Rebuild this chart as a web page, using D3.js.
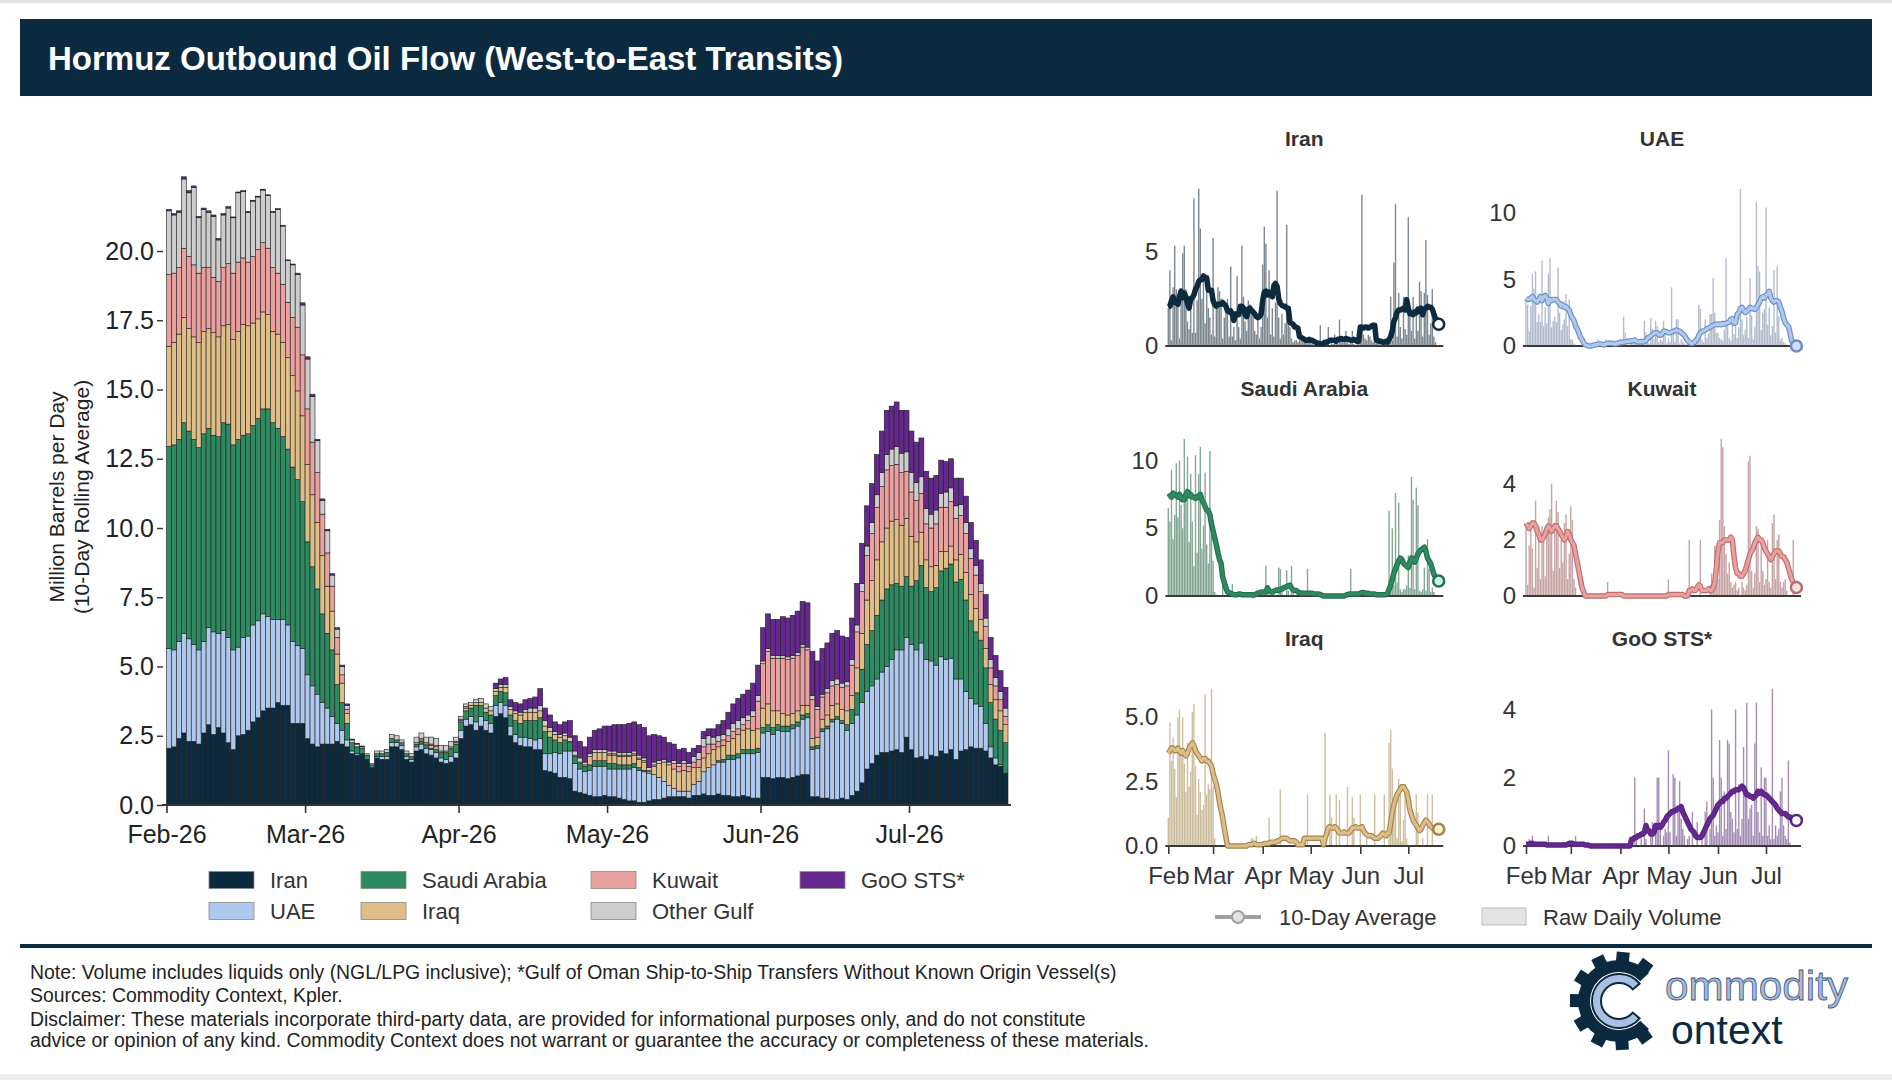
<!DOCTYPE html>
<html>
<head>
<meta charset="utf-8">
<script src="https://cdn.jsdelivr.net/npm/d3@7"></script>
<style>
body { margin: 0; background: #fff; }
text { font-family: "Liberation Sans", Arial, Helvetica, sans-serif; }
</style>
</head>
<body>
<div id="chart"></div>
<script>
// series names (stack order, bottom to top)
var keys = ["Iran", "UAE", "Saudi Arabia", "Iraq", "Kuwait", "Other Gulf", "GoO STS*"];

// 10-day rolling averages, million b/d, one value per day from 1 Feb 2026
var iranAvg = [
  2.05, 2.1, 2.4, 2.6, 2.3, 2.3, 2.2, 2.6, 2.9, 2.55,
  2.8, 2.6, 2.25, 2.0, 2.5, 2.55, 2.7, 3.0, 3.15, 3.4,
  3.5, 3.5, 3.7, 3.6, 3.6, 2.95, 2.95, 2.95, 2.4, 2.2,
  2.1, 2.2, 2.2, 2.2, 2.3, 2.2, 2.1, 1.85, 1.8, 1.85,
  1.65, 1.35, 1.7, 1.65, 1.65, 2.1, 2.1, 2.0, 1.65, 1.55,
  1.95, 2.0, 1.85, 1.8, 1.7, 1.55, 1.5, 1.55, 1.7, 2.4,
  2.85, 2.9, 2.7, 2.85, 2.7, 2.6, 3.2, 3.3, 3.15, 2.5,
  2.25, 2.15, 2.1, 2.1, 2.0, 2.0, 1.25, 1.2, 1.15, 1.0,
  1.0, 0.95, 0.5, 0.45, 0.4, 0.35, 0.3, 0.3, 0.35, 0.3,
  0.3, 0.25, 0.2, 0.15, 0.15, 0.1, 0.1, 0.15, 0.2, 0.2,
  0.25, 0.3, 0.3, 0.3, 0.3, 0.25, 0.35, 0.35, 0.4, 0.35,
  0.35, 0.4, 0.35, 0.35, 0.3, 0.3, 0.35, 0.3, 0.25, 0.25,
  1.0, 1.0, 0.95, 1.0, 1.0, 0.95, 1.0, 1.05, 1.1, 1.1,
  0.3, 0.3, 0.25, 0.25, 0.2, 0.2, 0.25, 0.2, 0.35, 0.5,
  0.8, 1.3, 1.5, 1.8, 1.9, 1.9, 1.95, 2.0, 1.9, 2.45,
  2.0, 1.7, 1.75, 1.65, 1.8, 1.75, 1.95, 1.85, 2.0, 1.65,
  1.95, 2.0, 2.1, 2.05, 2.05, 1.95, 1.7, 1.45, 1.4, 1.15
];
var uaeAvg = [
  3.6, 3.5, 3.5, 3.6, 3.7, 3.5, 3.4, 3.3, 3.5, 3.7,
  3.4, 3.7, 3.8, 3.6, 3.2, 3.5, 3.4, 3.5, 3.5, 3.5,
  3.3, 3.2, 3.0, 3.1, 2.9, 2.95, 2.8, 2.7, 2.3, 2.1,
  1.9, 1.5, 1.3, 1.0, 0.65, 0.5, 0.25, 0.1, 0.05, 0.0,
  0.0, 0.0, 0.05, 0.1, 0.1, 0.15, 0.15, 0.15, 0.1, 0.1,
  0.15, 0.2, 0.2, 0.2, 0.2, 0.15, 0.15, 0.2, 0.2, 0.3,
  0.25, 0.3, 0.3, 0.35, 0.35, 0.35, 0.4, 0.4, 0.45, 0.35,
  0.3, 0.3, 0.35, 0.3, 0.35, 0.4, 0.6, 0.65, 0.75, 0.85,
  0.95, 1.0, 1.0, 0.85, 0.8, 0.9, 1.1, 1.1, 1.05, 1.0,
  1.0, 1.05, 1.1, 1.15, 1.2, 1.15, 1.1, 1.0, 0.9, 0.8,
  0.6, 0.4, 0.3, 0.2, 0.2, 0.25, 0.4, 0.5, 0.8, 1.0,
  1.1, 1.15, 1.2, 1.3, 1.35, 1.4, 1.5, 1.55, 1.6, 1.65,
  1.6, 1.65, 1.6, 1.7, 1.65, 1.7, 1.75, 1.8, 2.0, 2.05,
  1.7, 1.75, 2.4, 2.5, 2.8, 2.9, 2.7, 2.5, 2.6, 2.75,
  2.9, 2.8, 2.8, 2.75, 2.9, 3.1, 3.3, 3.6, 3.7, 3.6,
  3.8, 3.9, 4.1, 3.6, 3.4, 3.3, 3.4, 3.4, 3.3, 2.9,
  2.6, 2.1, 1.75, 1.6, 1.5, 1.0, 0.4, 0.25, 0.05, 0.0
];
var saudiAvg = [
  7.3, 7.4, 7.3, 7.6, 7.5, 7.4, 7.3, 7.5, 7.2, 7.1,
  7.1, 7.5, 7.7, 7.4, 7.5, 7.3, 7.3, 7.2, 7.3, 7.4,
  7.5, 7.1, 6.9, 6.6, 6.35, 6.3, 6.0, 5.3, 4.8, 4.3,
  3.8, 3.2, 2.7, 2.4, 1.4, 1.0, 0.6, 0.3, 0.25, 0.2,
  0.15, 0.1, 0.1, 0.1, 0.15, 0.15, 0.1, 0.1, 0.1, 0.1,
  0.1, 0.1, 0.1, 0.05, 0.1, 0.15, 0.2, 0.25, 0.3, 0.3,
  0.3, 0.3, 0.6, 0.4, 0.3, 0.3, 0.35, 0.4, 0.45, 0.4,
  0.5, 0.5, 0.6, 0.65, 0.7, 0.75, 0.8, 0.6, 0.45, 0.4,
  0.4, 0.3, 0.25, 0.2, 0.2, 0.2, 0.2, 0.2, 0.2, 0.2,
  0.2, 0.15, 0.15, 0.15, 0.15, 0.1, 0.05, 0.0, 0.0, 0.0,
  0.0, 0.0, 0.0, 0.0, 0.0, 0.0, 0.0, 0.0, 0.0, 0.0,
  0.0, 0.05, 0.1, 0.15, 0.15, 0.15, 0.15, 0.15, 0.15, 0.15,
  0.2, 0.25, 0.25, 0.2, 0.2, 0.2, 0.15, 0.15, 0.15, 0.15,
  0.1, 0.1, 0.1, 0.1, 0.1, 0.1, 0.1, 0.2, 0.5, 0.8,
  1.2, 1.7, 2.0, 2.3, 2.6, 2.8, 2.7, 2.4, 2.3, 2.2,
  2.1, 2.5, 2.8, 2.6, 2.5, 2.8, 3.1, 3.3, 3.4, 3.5,
  3.6, 3.3, 2.8, 2.6, 2.4, 2.0, 1.6, 1.4, 1.25, 1.1
];
var iraqAvg = [
  3.6, 3.7, 3.8, 3.8, 3.7, 3.7, 3.8, 3.7, 3.6, 3.7,
  3.6, 3.5, 3.6, 3.8, 3.9, 4.0, 3.9, 3.7, 3.6, 3.5,
  3.4, 3.3, 3.4, 3.4, 3.3, 3.3, 3.2, 3.1, 2.8, 2.6,
  2.4, 2.1, 1.7, 1.4, 1.1, 0.7, 0.35, 0.0, 0.0, 0.0,
  0.0, 0.0, 0.0, 0.0, 0.0, 0.0, 0.0, 0.0, 0.0, 0.0,
  0.05, 0.05, 0.05, 0.1, 0.1, 0.05, 0.05, 0.05, 0.05, 0.05,
  0.1, 0.1, 0.1, 0.1, 0.15, 0.15, 0.15, 0.15, 0.2, 0.2,
  0.25, 0.3, 0.3, 0.3, 0.3, 0.25, 0.2, 0.2, 0.2, 0.2,
  0.15, 0.05, 0.05, 0.05, 0.05, 0.3, 0.3, 0.3, 0.3, 0.3,
  0.3, 0.3, 0.3, 0.3, 0.3, 0.3, 0.3, 0.05, 0.3, 0.5,
  0.7, 0.75, 0.7, 0.7, 0.75, 0.7, 0.6, 0.5, 0.5, 0.5,
  0.55, 0.5, 0.5, 0.5, 0.6, 0.7, 0.7, 0.75, 0.7, 0.7,
  0.7, 0.75, 0.6, 0.5, 0.45, 0.4, 0.4, 0.4, 0.35, 0.3,
  0.3, 0.3, 0.35, 0.4, 0.5, 0.45, 0.4, 0.5, 0.5, 0.9,
  1.3, 1.6, 1.8, 2.0, 2.1, 2.2, 2.3, 2.3, 2.2, 2.1,
  1.8, 1.4, 1.2, 1.0, 0.9, 0.8, 0.7, 0.6, 0.65, 0.8,
  0.9, 1.0, 0.95, 0.85, 0.75, 0.7, 0.65, 0.7, 0.7, 0.65
];
var kuwaitAvg = [
  2.6, 2.5, 2.4, 2.5, 2.6, 2.6, 2.5, 2.3, 2.2, 2.0,
  2.0, 2.1, 2.2, 2.4, 2.5, 2.4, 2.3, 2.4, 2.5, 2.5,
  2.4, 2.3, 2.2, 2.1, 2.0, 2.1, 2.3, 2.2, 2.0, 1.9,
  1.8, 1.5, 1.2, 0.9, 0.6, 0.3, 0.15, 0.0, 0.0, 0.0,
  0.0, 0.0, 0.0, 0.0, 0.0, 0.0, 0.0, 0.0, 0.0, 0.0,
  0.0, 0.05, 0.05, 0.05, 0.05, 0.05, 0.05, 0.05, 0.05, 0.05,
  0.05, 0.0, 0.0, 0.0, 0.0, 0.0, 0.0, 0.0, 0.0, 0.0,
  0.0, 0.0, 0.0, 0.0, 0.0, 0.0, 0.0, 0.0, 0.0, 0.0,
  0.0, 0.0, 0.0, 0.0, 0.0, 0.0, 0.0, 0.0, 0.0, 0.05,
  0.05, 0.05, 0.05, 0.05, 0.05, 0.05, 0.05, 0.05, 0.05, 0.0,
  0.0, 0.0, 0.2, 0.2, 0.25, 0.2, 0.2, 0.3, 0.4, 0.35,
  0.2, 0.2, 0.2, 0.2, 0.25, 0.2, 0.2, 0.3, 0.5, 1.0,
  1.6, 1.9, 1.9, 1.9, 2.0, 2.0, 2.0, 2.0, 2.1, 2.0,
  1.4, 1.0, 0.8, 0.8, 0.7, 0.7, 0.8, 0.9, 1.1, 1.3,
  1.5, 1.6, 1.7, 1.9, 2.0, 2.1, 2.0, 2.0, 1.9, 1.7,
  1.6, 1.5, 1.4, 1.3, 1.4, 1.5, 1.6, 1.6, 1.6, 1.5,
  1.4, 1.4, 1.3, 1.2, 1.0, 0.8, 0.6, 0.5, 0.4, 0.3
];
var otherAvg = [
  2.3, 2.1, 2.0, 2.5, 2.3, 2.8, 2.0, 2.1, 2.0, 2.2,
  1.5, 1.9, 2.0, 2.0, 2.5, 2.4, 1.8, 2.0, 1.9, 1.9,
  1.9, 2.0, 2.3, 2.1, 1.5, 1.9, 1.9, 1.8, 1.8, 1.65,
  1.15, 0.5, 0.8, 0.4, 0.3, 0.3, 0.15, 0.1, 0.1, 0.05,
  0.05, 0.05, 0.1, 0.1, 0.1, 0.15, 0.15, 0.1, 0.1, 0.1,
  0.2, 0.2, 0.2, 0.25, 0.25, 0.2, 0.2, 0.2, 0.15, 0.1,
  0.1, 0.1, 0.1, 0.15, 0.15, 0.15, 0.1, 0.1, 0.1, 0.1,
  0.1, 0.1, 0.1, 0.15, 0.15, 0.2, 0.2, 0.15, 0.1, 0.1,
  0.1, 0.15, 0.15, 0.15, 0.1, 0.1, 0.1, 0.1, 0.1, 0.1,
  0.1, 0.1, 0.1, 0.1, 0.1, 0.1, 0.1, 0.1, 0.1, 0.1,
  0.1, 0.1, 0.1, 0.1, 0.1, 0.1, 0.2, 0.25, 0.3, 0.3,
  0.25, 0.2, 0.2, 0.25, 0.3, 0.3, 0.25, 0.2, 0.2, 0.2,
  0.1, 0.1, 0.1, 0.1, 0.1, 0.1, 0.1, 0.1, 0.1, 0.1,
  0.15, 0.1, 0.1, 0.15, 0.2, 0.2, 0.15, 0.15, 0.2, 0.25,
  0.3, 0.35, 0.4, 0.45, 0.5, 0.55, 0.6, 0.65, 0.7, 0.7,
  0.7, 0.65, 0.6, 0.55, 0.5, 0.5, 0.5, 0.55, 0.5, 0.45,
  0.4, 0.4, 0.35, 0.35, 0.3, 0.3, 0.3, 0.3, 0.3, 0.3
];
var gooAvg = [
  0.05, 0.05, 0.05, 0.08, 0.08, 0.05, 0.05, 0.05, 0.05, 0.05,
  0.05, 0.05, 0.05, 0.03, 0.03, 0.03, 0.03, 0.03, 0.03, 0.03,
  0.03, 0.03, 0.03, 0.03, 0.03, 0.03, 0.05, 0.08, 0.08, 0.08,
  0.05, 0.05, 0.05, 0.05, 0.05, 0.05, 0.05, 0.03, 0.03, 0.03,
  0.0, 0.0, 0.0, 0.0, 0.0, 0.0, 0.0, 0.0, 0.0, 0.0,
  0.0, 0.0, 0.0, 0.0, 0.0, 0.0, 0.0, 0.0, 0.0, 0.0,
  0.0, 0.0, 0.0, 0.0, 0.0, 0.0, 0.2, 0.2, 0.25, 0.25,
  0.3, 0.3, 0.35, 0.35, 0.4, 0.6, 0.45, 0.45, 0.35, 0.35,
  0.4, 0.6, 0.55, 0.6, 0.55, 0.6, 0.7, 0.75, 0.85, 0.9,
  0.95, 1.0, 1.0, 1.05, 1.05, 1.1, 1.1, 1.15, 1.0, 0.9,
  0.8, 0.7, 0.6, 0.5, 0.45, 0.4, 0.3, 0.25, 0.25, 0.25,
  0.3, 0.4, 0.5, 0.6, 0.7, 0.8, 0.85, 0.9, 1.0, 1.1,
  1.2, 1.25, 1.3, 1.3, 1.4, 1.4, 1.45, 1.5, 1.55, 1.6,
  1.6, 1.65, 1.65, 1.65, 1.7, 1.75, 1.7, 1.6, 1.5, 1.5,
  1.45, 1.45, 1.4, 1.45, 1.5, 1.6, 1.55, 1.6, 1.55, 1.5,
  1.5, 1.45, 1.4, 1.35, 1.3, 1.25, 1.2, 1.1, 1.05, 1.0,
  0.95, 0.95, 0.95, 0.9, 0.85, 0.85, 0.8, 0.8, 0.75, 0.75
];

// raw daily volumes, million b/d
var iranRaw = [
  2.0, 4.0, 0.3, 3.1, 5.3, 3.0, 2.6, 0.4, 2.7, 4.9,
  5.3, 3.0, 1.3, 0.9, 2.2, 0.7, 7.8, 0.7, 2.4, 8.3,
  6.2, 2.5, 3.5, 1.2, 3.2, 2.0, 1.5, 0.6, 5.7, 0.5,
  2.2, 3.1, 2.9, 2.5, 0.4, 1.5, 2.0, 2.5, 0.5, 4.2,
  0.5, 1.0, 0.3, 3.7, 1.0, 0.4, 5.3, 2.6, 1.3, 0.8,
  2.4, 2.2, 1.7, 2.0, 0.8, 0.6, 1.5, 0.4, 1.0, 4.3,
  6.3, 5.4, 1.5, 4.0, 0.6, 2.0, 0.5, 2.3, 8.2, 1.5,
  0.4, 1.7, 0.6, 1.2, 6.4, 2.0, 1.0, 0.4, 0.2, 0.3,
  0.3, 0.2, 0.3, 0.3, 0.2, 0.5, 0.3, 0.2, 0.4, 0.2,
  0.1, 0.0, 0.0, 0.1, 0.0, 1.1, 0.0, 0.1, 0.0, 0.1,
  1.0, 0.0, 0.3, 0.1, 0.6, 0.2, 0.1, 1.4, 0.5, 0.2,
  0.3, 0.8, 0.2, 0.1, 0.2, 0.8, 0.1, 0.0, 0.1, 0.2,
  0.3, 8.0, 0.6, 0.4, 0.3, 0.6, 0.5, 0.3, 0.2, 0.4,
  0.2, 0.2, 0.1, 0.3, 0.1, 0.2, 0.1, 0.3, 0.4, 2.6,
  0.3, 4.4, 7.5, 0.5, 2.8, 1.0, 0.4, 2.6, 0.9, 0.6,
  6.8, 1.6, 0.8, 2.6, 0.4, 2.0, 0.8, 3.4, 2.9, 0.5,
  2.8, 5.6, 2.7, 0.6, 1.2, 3.0, 0.5, 0.2, 0.0, 0.0
];
var uaeRaw = [
  3.6, 3.1, 1.1, 3.0, 5.4, 4.3, 5.6, 1.8, 2.4, 1.8,
  6.4, 1.5, 2.9, 1.7, 5.4, 6.6, 1.4, 1.9, 2.2, 1.8,
  5.9, 2.5, 1.2, 1.6, 2.0, 3.9, 1.5, 3.5, 0.5, 0.5,
  0.2, 0.1, 0.0, 0.1, 0.0, 0.0, 0.0, 0.0, 0.0, 0.0,
  0.0, 0.0, 0.0, 0.3, 0.0, 0.5, 0.0, 0.2, 0.0, 0.2,
  0.5, 0.0, 0.1, 0.4, 0.0, 0.2, 0.4, 0.0, 0.1, 0.2,
  0.3, 2.2, 1.0, 0.3, 0.1, 0.3, 0.2, 0.3, 0.2, 0.4,
  0.1, 0.3, 0.2, 0.3, 1.9, 1.0, 0.3, 0.2, 2.1, 1.3,
  0.5, 1.9, 1.5, 0.3, 0.5, 0.4, 1.9, 1.0, 0.2, 0.6,
  0.3, 4.4, 1.0, 0.3, 2.0, 2.0, 0.2, 0.5, 0.3, 0.2,
  0.1, 0.3, 0.1, 0.0, 0.2, 0.1, 0.3, 0.4, 3.1, 2.8,
  0.5, 0.3, 2.0, 0.6, 0.9, 2.4, 2.4, 5.1, 2.5, 1.0,
  1.0, 0.6, 0.5, 0.4, 1.2, 6.6, 1.5, 0.6, 0.4, 1.7,
  0.9, 2.0, 0.6, 1.4, 11.8, 2.0, 0.8, 1.2, 2.2, 0.6,
  5.1, 2.3, 0.5, 1.4, 10.8, 6.0, 5.6, 1.2, 2.5, 2.8,
  10.4, 1.6, 2.9, 0.8, 1.5, 5.7, 1.0, 6.0, 2.2, 0.5,
  0.6, 0.3, 0.2, 0.1, 0.0, 0.0, 0.0, 0.0, 0.0, 0.0
];
var saudiRaw = [
  6.5, 5.5, 9.3, 4.2, 6.0, 9.8, 5.8, 10.0, 6.7, 5.0,
  11.6, 7.8, 10.3, 4.0, 9.0, 5.5, 2.2, 10.4, 3.2, 9.0,
  11.0, 3.5, 5.2, 9.1, 3.8, 2.4, 10.7, 4.5, 2.6, 0.3,
  0.1, 0.0, 0.0, 0.0, 1.0, 0.0, 0.0, 0.0, 0.0, 0.0,
  0.9, 0.0, 0.0, 0.0, 0.0, 0.0, 0.0, 0.3, 0.0, 0.0,
  0.0, 0.0, 0.0, 0.0, 0.0, 0.4, 0.0, 0.0, 0.0, 0.0,
  0.0, 2.2, 0.3, 0.0, 0.0, 0.0, 0.2, 0.0, 0.0, 2.1,
  2.0, 0.3, 0.0, 0.0, 1.9, 0.4, 0.0, 2.2, 0.3, 0.0,
  0.0, 0.2, 0.0, 0.0, 0.0, 0.0, 0.0, 2.0, 0.0, 0.0,
  0.0, 0.0, 0.0, 0.0, 0.0, 0.0, 0.0, 0.0, 0.0, 0.0,
  0.0, 0.0, 0.0, 0.0, 0.0, 0.0, 0.0, 0.0, 0.0, 0.0,
  0.0, 0.0, 0.0, 0.3, 2.0, 0.3, 0.0, 0.0, 0.2, 0.0,
  0.2, 0.0, 0.0, 0.3, 0.0, 0.0, 0.2, 0.0, 0.2, 0.0,
  0.0, 0.0, 0.2, 0.0, 0.0, 0.2, 0.0, 0.0, 6.3, 0.4,
  5.0, 0.8, 7.6, 1.0, 6.9, 0.5, 0.3, 0.5, 0.5, 0.8,
  3.0, 0.6, 8.8, 7.1, 0.5, 8.0, 6.7, 0.4, 0.3, 0.5,
  2.1, 0.4, 4.2, 2.0, 0.3, 0.6, 0.3, 0.0, 0.0, 0.0
];
var iraqRaw = [
  1.1, 4.8, 3.3, 4.2, 3.0, 1.9, 5.0, 5.3, 3.5, 5.0,
  3.2, 2.1, 4.0, 2.3, 2.9, 5.2, 5.5, 3.1, 1.2, 2.6,
  2.1, 1.4, 1.6, 5.9, 2.0, 2.4, 2.2, 6.1, 2.3, 0.3,
  0.0, 0.0, 0.0, 0.0, 0.0, 0.0, 0.0, 0.0, 0.0, 0.0,
  0.0, 0.0, 0.0, 0.0, 0.0, 0.0, 0.0, 0.0, 0.0, 0.0,
  0.0, 0.0, 0.3, 0.3, 0.0, 0.4, 0.0, 0.0, 0.0, 0.0,
  0.0, 0.0, 0.0, 1.1, 0.0, 0.0, 0.0, 0.0, 0.0, 0.0,
  2.2, 0.0, 0.0, 0.0, 0.0, 0.0, 0.0, 0.0, 0.0, 0.0,
  0.0, 0.0, 0.0, 0.0, 0.0, 0.0, 0.0, 2.0, 0.0, 0.0,
  0.0, 0.0, 0.0, 0.0, 0.0, 0.0, 0.0, 0.0, 4.4, 0.0,
  0.0, 2.0, 1.1, 0.0, 0.0, 2.0, 0.0, 1.8, 0.0, 0.0,
  0.0, 0.0, 2.3, 0.0, 0.0, 1.9, 1.1, 0.0, 0.0, 0.0,
  2.0, 0.0, 0.0, 0.0, 0.5, 0.0, 0.0, 0.0, 0.0, 2.0,
  0.0, 0.0, 0.0, 0.0, 0.0, 2.0, 0.0, 0.0, 4.0, 4.5,
  3.0, 1.5, 1.8, 0.3, 2.6, 2.4, 0.2, 1.0, 2.4, 0.3,
  0.0, 0.0, 0.0, 0.0, 0.0, 2.0, 1.3, 0.0, 0.0, 0.3,
  0.0, 0.0, 2.0, 0.0, 0.0, 2.0, 0.0, 0.0, 0.0, 0.0
];
var kuwaitRaw = [
  2.6, 0.4, 1.8, 2.4, 1.7, 0.3, 3.4, 1.0, 2.5, 0.6,
  2.5, 2.0, 0.7, 2.3, 2.8, 3.1, 4.0, 0.9, 2.5, 3.4,
  3.0, 1.0, 2.0, 1.2, 2.6, 2.9, 0.6, 1.5, 3.2, 2.7,
  0.6, 0.3, 0.0, 0.0, 0.0, 0.0, 0.0, 0.0, 0.0, 0.0,
  0.0, 0.0, 0.0, 0.0, 0.0, 0.0, 0.0, 0.0, 0.0, 0.0,
  0.0, 0.5, 0.0, 0.0, 0.0, 0.0, 0.0, 0.0, 0.0, 0.0,
  0.0, 0.0, 0.0, 0.0, 0.0, 0.0, 0.0, 0.0, 0.0, 0.0,
  0.0, 0.0, 0.0, 0.0, 0.0, 0.0, 0.0, 0.0, 0.0, 0.0,
  0.0, 0.0, 0.0, 0.0, 0.0, 0.0, 0.0, 0.0, 0.0, 0.6,
  0.0, 0.0, 0.0, 0.0, 0.0, 0.0, 0.0, 0.0, 0.0, 0.0,
  0.0, 0.0, 2.0, 0.0, 0.0, 0.0, 0.0, 0.0, 0.0, 2.0,
  0.0, 0.0, 0.0, 0.0, 0.0, 0.4, 0.8, 0.3, 1.8, 0.4,
  0.6, 2.7, 5.6, 5.3, 2.5, 1.5, 0.8, 1.2, 0.5, 0.3,
  0.4, 0.5, 0.2, 0.3, 0.0, 0.5, 0.3, 0.2, 0.4, 4.8,
  5.0, 0.9, 0.3, 0.8, 2.5, 2.4, 0.5, 1.9, 0.9, 0.4,
  0.6, 2.0, 0.5, 0.3, 2.6, 2.9, 0.6, 2.0, 2.2, 0.5,
  0.3, 0.5, 0.6, 0.2, 0.0, 0.0, 0.0, 2.0, 0.0, 0.0
];
var gooRaw = [
  0.0, 0.0, 0.2, 0.0, 0.3, 0.0, 0.0, 0.0, 0.0, 0.0,
  0.0, 0.0, 0.0, 0.0, 0.3, 0.0, 0.0, 0.0, 0.0, 0.0,
  0.0, 0.0, 0.0, 0.0, 0.0, 0.0, 0.0, 0.0, 0.0, 0.0,
  0.0, 0.3, 0.0, 0.0, 0.0, 0.0, 0.0, 0.0, 0.0, 0.0,
  0.0, 0.0, 0.0, 0.0, 0.0, 0.0, 0.0, 0.0, 0.0, 0.0,
  0.0, 0.0, 0.0, 0.0, 0.0, 0.0, 0.0, 0.0, 0.0, 0.0,
  0.0, 0.0, 0.0, 0.0, 0.0, 0.0, 0.0, 0.0, 2.0, 0.3,
  0.0, 0.0, 0.2, 0.0, 1.1, 0.2, 0.0, 0.0, 0.3, 0.7,
  0.0, 0.5, 2.0, 2.0, 0.5, 0.0, 0.3, 0.5, 0.4, 2.8,
  0.4, 0.0, 2.1, 2.0, 0.3, 1.2, 1.9, 0.8, 0.5, 0.3,
  0.0, 0.2, 0.3, 0.0, 1.0, 0.0, 0.0, 0.7, 0.0, 0.0,
  0.3, 0.0, 1.0, 1.3, 0.0, 0.5, 4.0, 2.0, 0.3, 0.6,
  0.4, 3.1, 2.0, 0.3, 1.6, 0.5, 3.1, 3.0, 1.0, 0.8,
  0.4, 4.0, 0.5, 1.8, 0.3, 0.8, 2.9, 1.5, 4.2, 0.8,
  1.1, 1.2, 0.3, 3.0, 4.2, 1.0, 0.4, 2.3, 0.3, 2.0,
  2.0, 0.3, 0.6, 0.2, 4.6, 0.2, 0.6, 0.3, 0.5, 1.6,
  2.0, 0.6, 0.3, 0.2, 2.5, 0.1, 0.0, 0.0, 0.0, 0.0
];

// axis tick values / labels
var mainYTicks = [0, 2.5, 5, 7.5, 10, 12.5, 15, 17.5, 20];
var monthStarts = ["2026-02-01", "2026-03-01", "2026-04-01", "2026-05-01", "2026-06-01", "2026-07-01"];
var panelNames = ["Iran", "UAE", "Saudi Arabia", "Kuwait", "Iraq", "GoO STS*"];
var panelTicks = [[0, 5], [0, 5, 10], [0, 5, 10], [0, 2, 4], [0, 2.5, 5], [0, 2, 4]];
var legendLabels = ["10-Day Average", "Raw Daily Volume"];
var noteLines = [
  "Note: Volume includes liquids only (NGL/LPG inclusive); *Gulf of Oman Ship-to-Ship Transfers Without Known Origin Vessel(s)",
  "Sources: Commodity Context, Kpler.",
  "Disclaimer: These materials incorporate third-party data, are provided for informational purposes only, and do not constitute",
  "advice or opinion of any kind. Commodity Context does not warrant or guarantee the accuracy or completeness of these materials."
];

var avgData = [iranAvg, uaeAvg, saudiAvg, iraqAvg, kuwaitAvg, otherAvg, gooAvg];
var rawByName = {"Iran": iranRaw, "UAE": uaeRaw, "Saudi Arabia": saudiRaw, "Kuwait": kuwaitRaw, "Iraq": iraqRaw, "GoO STS*": gooRaw};
var avgByName = {"Iran": iranAvg, "UAE": uaeAvg, "Saudi Arabia": saudiAvg, "Kuwait": kuwaitAvg, "Iraq": iraqAvg, "GoO STS*": gooAvg};

var colors = ["#0d2b3f", "#aec8ee", "#2e8a60", "#dfbd87", "#eba0a0", "#cdcdcd", "#65288f"];
var colorByName = {"Iran": colors[0], "UAE": colors[1], "Saudi Arabia": colors[2], "Iraq": colors[3], "Kuwait": colors[4], "GoO STS*": colors[6]};
var edgeByName = {"Iran": "#0d2b3f", "UAE": "#6c8cc2", "Saudi Arabia": "#24704d", "Iraq": "#a4844f", "Kuwait": "#bb6d6d", "GoO STS*": "#5a2282"};
var rawByColor = {"Iran": "#7c878f", "UAE": "#b3bccc", "Saudi Arabia": "#85a894", "Iraq": "#ccbe9e", "Kuwait": "#c7a3a3", "GoO STS*": "#a48db5"};
var dotFill = {"Iran": "#ffffff", "UAE": "#cfe0f7", "Saudi Arabia": "#cff3e4", "Iraq": "#fbf0cc", "Kuwait": "#fbe3e3", "GoO STS*": "#ffffff"};

var W = 1892, H = 1080;
var svg = d3.select("#chart").append("svg").attr("width", W).attr("height", H);
svg.append("rect").attr("width", W).attr("height", H).attr("fill", "#fff");
svg.append("rect").attr("width", W).attr("height", 3).attr("fill", "#e3e3e3");
svg.append("rect").attr("y", 1074).attr("width", W).attr("height", 6).attr("fill", "#ececec");

// header band
svg.append("rect").attr("x", 20).attr("y", 19).attr("width", 1852).attr("height", 77).attr("fill", "#0c2a3f");
svg.append("text").attr("x", 48).attr("y", 70)
  .attr("fill", "#fff").attr("font-size", 33).attr("font-weight", "bold")
  .text("Hormuz Outbound Oil Flow (West-to-East Transits)");

// ---------- main stacked chart ----------
var start = new Date(2026, 1, 1);
var nDays = iranAvg.length;
var days = d3.timeDay.range(start, d3.timeDay.offset(start, nDays));
var rows = days.map(function(d, i) {
  var r = {date: d};
  keys.forEach(function(k, j) { r[k] = avgData[j][i]; });
  return r;
});
var parse = d3.timeParse("%Y-%m-%d");
var months = monthStarts.map(parse);

var x = d3.scaleTime().domain([start, d3.timeDay.offset(start, nDays)]).range([166.5, 1008]);
var y = d3.scaleLinear().domain([0, 20]).range([805, 251]);
var bw = x(d3.timeDay.offset(start, 1)) - x(start);

var series = d3.stack().keys(keys)(rows);
var main = svg.append("g");
main.selectAll("g.layer").data(series).enter().append("g")
    .attr("fill", function(d, i) { return colors[i]; })
  .selectAll("rect").data(function(d) { return d; })
  .enter().append("rect")
    .attr("x", function(d) { return x(d.data.date); })
    .attr("y", function(d) { return y(d[1]); })
    .attr("width", bw)
    .attr("height", function(d) { return Math.max(0, y(d[0]) - y(d[1])); })
    .attr("stroke", "#1e1e1e")
    .attr("stroke-width", 0.6);

var xAxis = main.append("g").attr("transform", "translate(0,805)")
  .call(d3.axisBottom(x).tickValues(months).tickFormat(d3.timeFormat("%b-%y")).tickSize(8).tickPadding(12).tickSizeOuter(0));
xAxis.select(".domain").remove();
xAxis.selectAll("line").attr("stroke", "#333").attr("stroke-width", 1.6);
xAxis.selectAll("text").attr("font-size", 25).attr("fill", "#222");
main.append("line").attr("x1", 162).attr("x2", 1011).attr("y1", 805).attr("y2", 805)
  .attr("stroke", "#333").attr("stroke-width", 2);

var yAxis = main.append("g").attr("transform", "translate(163,0)")
  .call(d3.axisLeft(y).tickValues(mainYTicks).tickFormat(d3.format(".1f")).tickSize(6).tickPadding(3));
yAxis.select(".domain").remove();
yAxis.selectAll("line").attr("stroke", "#333").attr("stroke-width", 1.4);
yAxis.selectAll("text").attr("font-size", 25).attr("fill", "#222");

main.append("text").attr("transform", "translate(64,497) rotate(-90)")
  .attr("text-anchor", "middle").attr("font-size", 21).attr("fill", "#222")
  .text("Million Barrels per Day");
main.append("text").attr("transform", "translate(89,497) rotate(-90)")
  .attr("text-anchor", "middle").attr("font-size", 21).attr("fill", "#222")
  .text("(10-Day Rolling Average)");

// main legend: 2 rows, filled column by column
var legCols = [209, 361, 591, 800], legRows = [880, 911];
var leg = main.append("g").selectAll("g").data(keys).enter().append("g")
  .attr("transform", function(d, i) {
    return "translate(" + legCols[Math.floor(i / 2)] + "," + legRows[i % 2] + ")";
  });
leg.append("rect").attr("y", -8.5).attr("width", 45).attr("height", 17)
  .attr("fill", function(d, i) { return colors[i]; })
  .attr("stroke", "#888").attr("stroke-width", 0.8);
leg.append("text").attr("x", 61).attr("y", 8).attr("font-size", 22).attr("fill", "#333")
  .text(function(d) { return d; });

// ---------- small multiples ----------
var sm = svg.append("g");
panelNames.forEach(function(name, p) {
  var col = p % 2, row = Math.floor(p / 2);
  var x0 = col === 0 ? 1168.3 : 1526;
  var y0 = 346 + row * 250;
  var raw = rawByName[name], avg = avgByName[name];
  var xs = d3.scaleTime().domain([start, d3.timeDay.offset(start, nDays)]).range([x0, x0 + nDays * 1.6]);
  var ys = d3.scaleLinear().domain([0, d3.max(raw) * 1.05]).range([y0, y0 - 165]);
  var g = sm.append("g");

  g.append("text").attr("x", x0 + 136).attr("y", y0 - 200)
    .attr("text-anchor", "middle").attr("font-size", 21).attr("font-weight", "bold").attr("fill", "#333")
    .text(name);

  g.selectAll("rect.raw").data(raw).enter().append("rect")
    .attr("x", function(d, i) { return xs(days[i]) - 0.7; })
    .attr("y", function(d) { return ys(d); })
    .attr("width", 1.4)
    .attr("height", function(d) { return y0 - ys(d); })
    .attr("fill", rawByColor[name]);

  g.append("line").attr("x1", x0 - 3).attr("x2", x0 + 275).attr("y1", y0).attr("y2", y0)
    .attr("stroke", "#3a3a3a").attr("stroke-width", 2);

  var line = d3.line().x(function(d, i) { return xs(days[i]); }).y(function(d) { return ys(d); });
  g.append("path").datum(avg).attr("d", line).attr("fill", "none")
    .attr("stroke", edgeByName[name]).attr("stroke-width", 5.5).attr("stroke-linejoin", "round");
  g.append("path").datum(avg).attr("d", line).attr("fill", "none")
    .attr("stroke", colorByName[name]).attr("stroke-width", 3.2).attr("stroke-linejoin", "round");
  g.append("circle").attr("cx", xs(days[nDays - 1])).attr("cy", ys(avg[nDays - 1])).attr("r", 5.5)
    .attr("fill", dotFill[name]).attr("stroke", edgeByName[name]).attr("stroke-width", 2.5);

  var yA = g.append("g").attr("transform", "translate(" + x0 + ",0)")
    .call(d3.axisLeft(ys).tickValues(panelTicks[p]).tickFormat(panelTicks[p][2] === 5 ? d3.format(".1f") : d3.format("d")).tickSize(0).tickPadding(10));
  yA.select(".domain").remove();
  yA.selectAll("text").attr("font-size", 24).attr("fill", "#333");

  if (row === 2) {
    var xA = g.append("g").attr("transform", "translate(0," + y0 + ")")
      .call(d3.axisBottom(xs).tickValues(months).tickFormat(d3.timeFormat("%b")).tickSize(8).tickPadding(13).tickSizeOuter(0));
    xA.select(".domain").remove();
    xA.selectAll("line").attr("stroke", "#3a3a3a").attr("stroke-width", 1.6);
    xA.selectAll("text").attr("font-size", 24).attr("fill", "#333");
  }
});

// small-multiples legend
var sl = svg.append("g");
sl.append("line").attr("x1", 1215).attr("x2", 1261).attr("y1", 917).attr("y2", 917)
  .attr("stroke", "#a0a0a0").attr("stroke-width", 4);
sl.append("circle").attr("cx", 1238).attr("cy", 917).attr("r", 6)
  .attr("fill", "#e2e2e2").attr("stroke", "#a0a0a0").attr("stroke-width", 2);
sl.append("text").attr("x", 1279).attr("y", 925).attr("font-size", 22).attr("fill", "#333").text(legendLabels[0]);
sl.append("rect").attr("x", 1482).attr("y", 908).attr("width", 44).attr("height", 17)
  .attr("fill", "#e4e4e4").attr("stroke", "#bdbdbd").attr("stroke-width", 1);
sl.append("text").attr("x", 1543).attr("y", 925).attr("font-size", 22).attr("fill", "#333").text(legendLabels[1]);

// ---------- footer ----------
svg.append("rect").attr("x", 20).attr("y", 944).attr("width", 1852).attr("height", 4).attr("fill", "#0c2a3f");
svg.append("g").selectAll("text").data(noteLines).enter().append("text")
  .attr("x", 30)
  .attr("y", function(d, i) { return [979, 1002, 1026, 1047][i]; })
  .attr("font-size", 19.4).attr("fill", "#222")
  .text(function(d) { return d; });

// logo
var logo = svg.append("g").attr("transform", "translate(1619,1001)");
var ringArc = d3.arc().innerRadius(29).outerRadius(41).startAngle(Math.PI / 2 + 0.75).endAngle(Math.PI * 2.5 - 0.75);
logo.append("path").attr("d", ringArc()).attr("fill", "#0c2a3f");
d3.range(9).forEach(function(i) {
  var deg = (Math.PI / 2 + 0.95 + i * 0.55) * 180 / Math.PI;
  logo.append("rect").attr("x", -6.5).attr("y", -49).attr("width", 13).attr("height", 12)
    .attr("fill", "#0c2a3f").attr("transform", "rotate(" + deg + ")");
});
var cArc = d3.arc().innerRadius(18).outerRadius(27).startAngle(Math.PI / 2 + 0.7).endAngle(Math.PI * 2.5 - 0.7);
logo.append("path").attr("d", cArc()).attr("fill", "#a9c0e4").attr("stroke", "#0c2a3f").attr("stroke-width", 2);
svg.append("text").attr("x", 1665).attr("y", 1000).attr("font-size", 41)
  .attr("fill", "#a4bae0").attr("stroke", "#3a5676").attr("stroke-width", 0.8)
  .attr("textLength", 183).attr("lengthAdjust", "spacingAndGlyphs").text("ommodity");
svg.append("text").attr("x", 1671).attr("y", 1044).attr("font-size", 41)
  .attr("fill", "#0c2a3f").text("ontext");
</script>
</body>
</html>
